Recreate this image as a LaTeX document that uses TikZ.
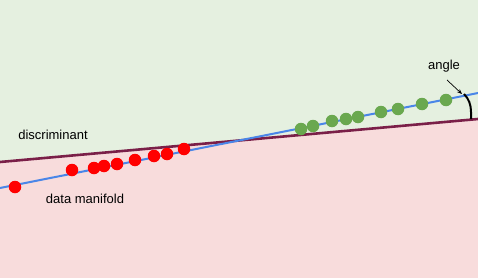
\documentclass[tikz,border=0pt]{standalone}
\usepackage{fontspec}
\setmainfont{Liberation Sans}
\usetikzlibrary{arrows.meta}
\definecolor{bggreen}{HTML}{E5F0E0}
\definecolor{bgpink}{HTML}{F8DCDC}
\definecolor{disc}{HTML}{7A1F48}
\definecolor{mani}{HTML}{4A86E8}
\definecolor{reddot}{HTML}{FF0000}
\definecolor{greendot}{HTML}{6AA84F}
\tikzset{
  lbl/.style={font=\fontsize{13pt}{15pt}\selectfont, text=black, inner sep=0pt},
  rdot/.style={circle, fill=reddot, minimum size=12.5pt, inner sep=0pt},
  gdot/.style={circle, fill=greendot, minimum size=12.5pt, inner sep=0pt},
}
\begin{document}
\begin{tikzpicture}[x=1pt,y=-1pt]
\useasboundingbox (0,0) rectangle (478,278);
\fill[bgpink] (0,0) rectangle (478,278);
\fill[bggreen] (0,0) -- (478,0) -- (478,119) -- (0,162) -- cycle;
\draw[disc, line width=2.6pt] (0,162) -- (478,119);
\draw[mani, line width=2pt] (0,188) -- (478,93);
\foreach \x/\y in {15/187,72/170,94/168,104/166,117/164,135/160,154/156,167/154,184/149}
  \node[rdot] at (\x,\y) {};
\foreach \x/\y in {301/129,313/126,332/121,346/119,358/117,381/112,398/109,422/104,446/100}
  \node[gdot] at (\x,\y) {};
\draw[black, line width=2pt] (464,94) .. controls (469,99) and (471,105) .. (471,112) -- (471,119);
\node[lbl] (discl) at (53,135) {discriminant};
\node[lbl] (manil) at (85,199) {data manifold};
\node[lbl] (angl) at (444,66) {angle};
\coordinate (tip) at (462,94);
\draw[-{Stealth[length=5pt,width=4pt]}, line width=0.7pt] (447,80) -- (tip);
\end{tikzpicture}
\end{document}
